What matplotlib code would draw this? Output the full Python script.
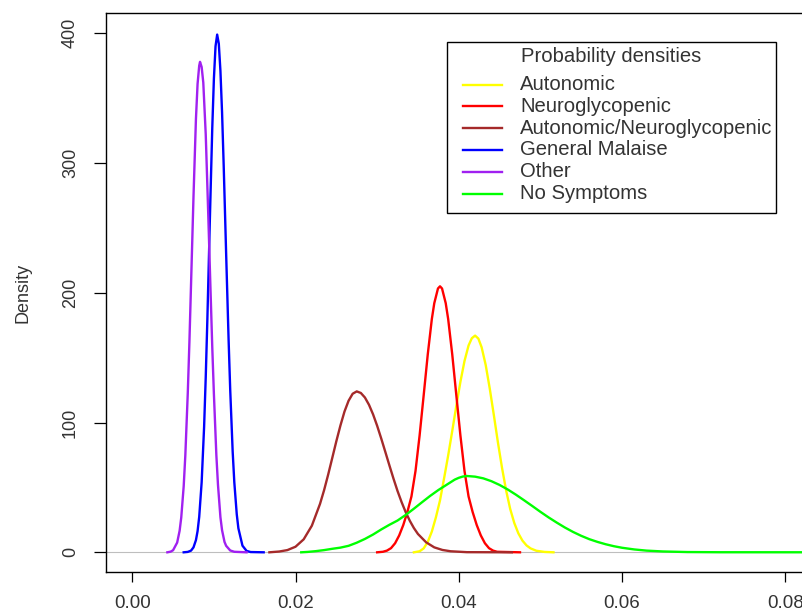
import matplotlib
matplotlib.use("Agg")
import matplotlib.pyplot as plt
from matplotlib.patches import Rectangle
from matplotlib.lines import Line2D

plt.rcParams['font.family'] = ['Liberation Sans', 'DejaVu Sans']

# density curves (x = value, y = density)
auto_x = [0.0345, 0.0352, 0.0357, 0.0362, 0.0367, 0.0372, 0.0377, 0.0382, 0.0387, 0.0392,
          0.0397, 0.0402, 0.0407, 0.0412, 0.0416, 0.0420, 0.0424, 0.0428, 0.0433, 0.0438,
          0.0443, 0.0448, 0.0453, 0.0458, 0.0463, 0.0468, 0.0473, 0.0478, 0.0483, 0.0488,
          0.0495, 0.0505, 0.0516]
auto_y = [0, 0.8, 3, 8, 16, 27, 40, 57, 74.6, 93.5,
          112.9, 131.4, 147.4, 159.4, 165, 167, 164.7, 158, 144.3, 126,
          105.6, 84.5, 65, 47.7, 33.4, 22.6, 14.6, 9, 5.3, 3,
          1.2, 0.3, 0]

neuro_x = [0.0300, 0.0307, 0.0312, 0.0317, 0.0322, 0.0327, 0.0332, 0.0337, 0.0342, 0.0347,
           0.0352, 0.0357, 0.0362, 0.0367, 0.0370, 0.03745, 0.0377, 0.03795, 0.0384, 0.0387,
           0.0392, 0.0397, 0.0402, 0.0407, 0.0412, 0.0417, 0.0422, 0.0427, 0.0432, 0.0437,
           0.0442, 0.0447, 0.0475]
neuro_y = [0, 0.4, 1.3, 3.2, 7, 13, 21, 31, 43, 62.7,
           90, 121, 152.5, 179.8, 192, 203.3, 205, 203.3, 192, 179.8,
           152.5, 121, 90, 62.7, 43, 31, 21, 13, 7, 3.2,
           1.3, 0.4, 0]

both_x = [0.0168, 0.0180, 0.0190, 0.0200, 0.0210, 0.0220, 0.0230, 0.0235, 0.0240, 0.0245,
          0.0250, 0.0255, 0.0260, 0.0265, 0.0270, 0.0275, 0.0280, 0.0285, 0.0290, 0.0295,
          0.0300, 0.0305, 0.0310, 0.0315, 0.0320, 0.0325, 0.0330, 0.0335, 0.0340, 0.0345,
          0.0350, 0.0360, 0.0370, 0.0380, 0.0390, 0.0410, 0.0465]
both_y = [0, 0.6, 1.7, 4.3, 10, 20.5, 37.3, 47.9, 59.9, 72.7,
          85.6, 97.7, 108.5, 116.8, 122.2, 124, 122.8, 119.3, 113.7, 106.3,
          97.5, 87.7, 77.4, 67, 56.8, 47.2, 38.6, 30.9, 24.3, 18.7,
          14.1, 7.7, 3.8, 1.8, 0.8, 0.1, 0]

malaise_x = [0.0063, 0.0068, 0.0072, 0.0075, 0.0078, 0.0080, 0.0082, 0.0085, 0.0088, 0.0090,
             0.0092, 0.0095, 0.0098, 0.0100, 0.0102, 0.0104, 0.0106, 0.0108, 0.0110, 0.0112,
             0.0115, 0.0118, 0.0120, 0.0123, 0.0125, 0.0128, 0.0130, 0.0135, 0.0140, 0.0145,
             0.0161]
malaise_y = [0, 0.3, 1.3, 3.8, 9.4, 16.3, 27.3, 54, 96.7, 135,
             179.7, 255, 327, 365, 390, 399, 392, 371, 339, 298,
             230, 164, 125, 77.6, 54, 29.3, 18.5, 5.1, 1.1, 0.2,
             0]

other_x = [0.0043, 0.0047, 0.0050, 0.0055, 0.0058, 0.0060, 0.0063, 0.0065, 0.0068, 0.0070,
           0.0073, 0.0075, 0.0078, 0.0080, 0.0082, 0.0083, 0.0085, 0.0087, 0.0090, 0.0093,
           0.0095, 0.0098, 0.0100, 0.0103, 0.0105, 0.0108, 0.0110, 0.0113, 0.0115, 0.0120,
           0.0125, 0.0140]
other_y = [0, 0.5, 1.6, 7.5, 16.6, 26.8, 51, 74.8, 122.7, 162,
           229, 274, 334, 361, 375, 378, 374, 362, 322, 262,
           220, 158, 122, 75, 52, 27, 17, 8, 5, 1.4,
           0.4, 0]

none_x = [0.0207, 0.0215, 0.0225, 0.0235, 0.0245, 0.0255, 0.0265, 0.0275, 0.0285, 0.0295,
          0.0305, 0.0315, 0.0325, 0.0335, 0.0345, 0.0355, 0.0365, 0.0375, 0.0385, 0.0395,
          0.0400, 0.0405, 0.0410, 0.0420, 0.0430, 0.0440, 0.0450, 0.0460, 0.0470, 0.0480,
          0.0490, 0.0500, 0.0510, 0.0520, 0.0530, 0.0540, 0.0550, 0.0560, 0.0570, 0.0580,
          0.0590, 0.0600, 0.0615, 0.0630, 0.0650, 0.0680, 0.0720, 0.0900]
none_y = [0, 0.3, 0.9, 1.7, 2.7, 3.6, 5.0, 7.4, 10.3, 13.7,
          17.6, 21.2, 24.5, 28.8, 33.6, 38.6, 43.5, 48.0, 52.0, 56.0,
          57.4, 58.4, 58.8, 58.3, 57.0, 54.8, 51.9, 48.4, 44.4, 40.1,
          35.7, 31.2, 26.9, 22.9, 19.1, 15.7, 12.7, 10.1, 8.0, 6.2,
          4.7, 3.5, 2.2, 1.3, 0.65, 0.2, 0.05, 0]

labels = ['Autonomic', 'Neuroglycopenic', 'Autonomic/Neuroglycopenic',
          'General Malaise', 'Other', 'No Symptoms']
colors = ['#FFFF00', '#FF0000', '#A52A2A', '#0000FF', '#A020F0', '#00FF00']
xticks = [0.00, 0.02, 0.04, 0.06, 0.08]
yticks = [0, 100, 200, 300, 400]

series = [(auto_x, auto_y), (neuro_x, neuro_y), (both_x, both_y),
          (malaise_x, malaise_y), (other_x, other_y), (none_x, none_y)]

W, H = 802, 614
fig = plt.figure(figsize=(W / 100, H / 100), dpi=100)
# right edge of the plot box lies just outside the picture, as in the original
ax = fig.add_axes([105.5 / W, 42.3 / H, 705.9 / W, 558.4 / H])

ax.axhline(0, color='#BEBEBE', lw=0.8, zorder=1)
for (xs, ys), lab, col in zip(series, labels, colors):
    ax.plot(xs, ys, color=col, lw=1.7, zorder=2)

ax.set_xlim(-0.00328, 0.0832)
ax.set_ylim(-14.95, 415.4)
ax.set_xticks(xticks)
ax.set_xticklabels(['%.2f' % t for t in xticks])
ax.set_yticks(yticks)
ax.set_yticklabels([str(t) for t in yticks], rotation=90, va='center')
ax.tick_params(axis='x', length=7.5, width=0.9, pad=9.5, labelsize=13.5, labelcolor='#333333')
ax.tick_params(axis='y', length=8.5, width=0.9, pad=10.5, labelsize=13, labelcolor='#333333')
for s in ax.spines.values():
    s.set_linewidth(1.0)

ax.set_ylabel('Density', fontsize=13, color='#333333', ha='center', va='center')
ax.yaxis.set_label_coords((23 - 105.5) / 705.9, 0.5)


# legend box in R style, placed in pixel terms (top-left origin)
def fx(px):
    return px / W


def fy(py):
    return 1 - py / H


box_l, box_t, box_r, box_b = 447.3, 41.7, 776.0, 213.3
fig.add_artist(Rectangle((fx(box_l), fy(box_b)), fx(box_r) - fx(box_l), fy(box_t) - fy(box_b),
                         transform=fig.transFigure, facecolor='white', edgecolor='black',
                         lw=1.0, zorder=5))
fig.text(fx((box_l + box_r) / 2 - 1), fy(56.5), 'Probability densities', ha='center',
         va='center', fontsize=14.6, color='#333333', zorder=6)
row0, step = 84.5, 21.8
for i, (lab, col) in enumerate(zip(labels, colors)):
    yy = row0 + i * step
    fig.add_artist(Line2D([fx(463), fx(502)], [fy(yy), fy(yy)], transform=fig.transFigure,
                          color=col, lw=1.7, zorder=6))
    fig.text(fx(520), fy(yy), lab, ha='left', va='center', fontsize=14.6,
             color='#333333', zorder=6)

fig.savefig('out.png', dpi=100)
